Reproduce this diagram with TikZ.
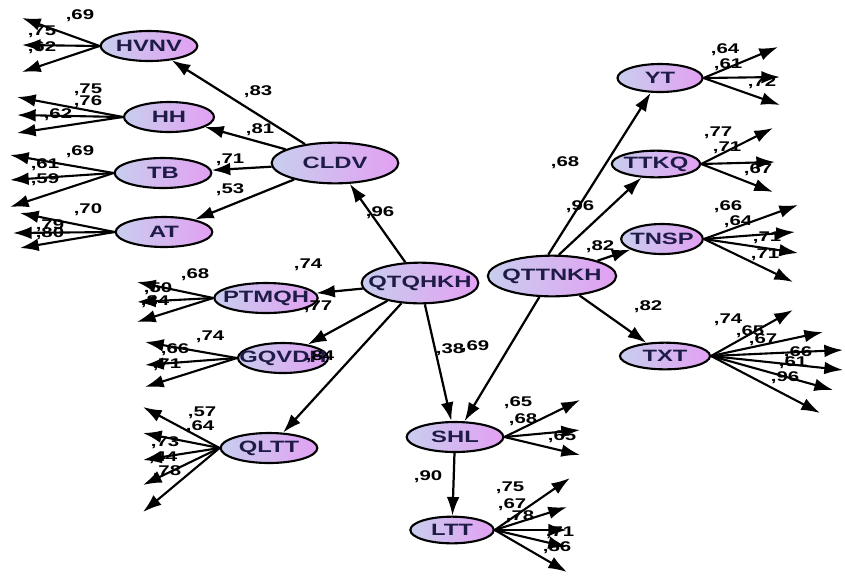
\documentclass[tikz,border=0pt]{standalone}
\usepackage{fontspec}
\newfontfamily\semfont[FakeStretch=1.45]{Liberation Sans}
\usetikzlibrary{shapes.geometric,arrows.meta}
\definecolor{latleft}{RGB}{200,206,238}
\definecolor{latright}{RGB}{226,160,242}
\definecolor{latink}{RGB}{30,28,70}

\begin{document}
\begin{tikzpicture}[x=0.03cm,y=-0.03cm,
  lat/.style={ellipse,draw,line width=1.8pt,left color=latleft,right color=latright,
    minimum width=2.9cm,minimum height=0.9cm,inner ysep=0pt,inner xsep=-0.36cm,text=latink,
    font=\semfont\bfseries\fontsize{14}{16}\selectfont},
  big/.style={minimum width=3.5cm,minimum height=1.22cm},
  path/.style={line width=1.9pt,-{Latex[length=5.6mm,width=3.8mm]}},
  ind/.style={line width=1.8pt,-{Latex[length=5.6mm,width=3.8mm]}},
  lbl/.style={inner sep=0pt,font=\semfont\bfseries\fontsize{12}{14}\selectfont}]
\useasboundingbox (0,0) rectangle (845,577);

% latent variables
\node[lat] (HVNV) at (149,46) {HVNV};
\node[lat,minimum width=2.7cm] (HH) at (169,117) {HH};
\node[lat] (TB) at (163,173) {TB};
\node[lat] (AT) at (164,232) {AT};
\node[lat,big,minimum width=3.8cm] (CLDV) at (335,163) {CLDV};
\node[lat,big] (QTQHKH) at (420,283) {QTQHKH};
\node[lat,big,minimum width=3.85cm] (QTTNKH) at (552,276) {QTTNKH};
\node[lat,minimum width=3.1cm] (PTMQH) at (266,298) {PTMQH};
\node[lat,minimum width=2.7cm] (GQVDH) at (283,358) {GQVDH};
\node[lat] (QLTT) at (269,448) {QLTT};
\node[lat] (SHL) at (455,437) {SHL};
\node[lat,minimum width=2.5cm,minimum height=0.8cm] (LTT) at (452,530) {LTT};
\node[lat,minimum width=2.55cm,minimum height=0.84cm] (YT) at (660,78) {YT};
\node[lat,minimum width=2.65cm,minimum height=0.8cm] (TTKQ) at (656,164) {TTKQ};
\node[lat,minimum width=2.45cm] (TNSP) at (662,239) {TNSP};
\node[lat,minimum width=2.7cm,minimum height=0.8cm] (TXT) at (665,356) {TXT};

% structural paths
\draw[path] (CLDV) -- (HVNV);
\draw[path] (CLDV) -- (HH);
\draw[path] (CLDV) -- (TB);
\draw[path] (CLDV) -- (AT);
\draw[path] (QTQHKH) -- (CLDV);
\draw[path] (QTQHKH) -- (PTMQH);
\draw[path] (QTQHKH) -- (GQVDH);
\draw[path] (QTQHKH) -- (QLTT);
\draw[path] (QTQHKH) -- (SHL);
\draw[path] (QTTNKH) -- (SHL);
\draw[path] (QTTNKH.100) -- (YT);
\draw[path] (QTTNKH.72) -- (TTKQ);
\draw[path] (QTTNKH) -- (TNSP);
\draw[path] (QTTNKH) -- (TXT);
\draw[path] (SHL) -- (LTT);

\foreach \t/\x/\y [count=\i] in {83/258/92,81/260/130,71/230/160,53/230/190,
  96/380/213,74/308/265,77/318/307,84/320/357,38/450/350,69/475/347,
  68/565/163,96/580/207,82/600/247,82/648/307,90/428/477}
  \node[lbl] (pl\i) at (\x,\y) {,\t};

% indicators, left side
\foreach \v/\ends/\labs in {
  HVNV/{22/18,22/45,22/72}/{69/80/16,75/42/32,62/42/48},
  HH/{17/97,17/115,17/133}/{75/88/90,76/88/102,62/58/115},
  TB/{10/155,10/180,10/207}/{69/80/152,61/45/165,59/45/180},
  AT/{20/213,13/233,20/248}/{70/88/210,79/50/226,80/50/234},
  PTMQH/{137/282,137/302,137/322}/{68/195/275,50/158/289,84/155/302},
  GQVDH/{145/342,145/365,145/387}/{74/210/337,66/175/350,71/167/365},
  QLTT/{143/407,143/433,143/460,143/485,143/512}/{57/202/413,64/200/427,73/165/443,44/163/458,78/167/472}} {
  \foreach \x/\y [count=\i] in \ends {
    \coordinate (\v e\i) at (\x,\y);
    \draw[ind] (\v.west) -- (\v e\i);
  }
  \foreach \t/\x/\y [count=\i] in \labs
    \node[lbl] (\v l\i) at (\x,\y) {,\t};
}

% indicators, right side
\foreach \v/\ends/\labs in {
  SHL/{580/400,580/430,580/455}/{65/518/403,68/523/420,65/562/437},
  LTT/{570/478,567/507,567/530,567/547,567/572}/{75/510/488,67/512/505,78/520/517,71/560/533,86/557/548},
  YT/{778/47,780/77,780/105}/{64/725/50,61/728/65,72/762/83},
  TTKQ/{773/128,775/162,773/192}/{77/718/133,71/727/148,67/758/170},
  TNSP/{798/205,795/232,798/253,793/282}/{66/728/207,64/738/222,71/767/238,71/765/255},
  TXT/{793/310,823/332,843/350,843/370,833/390,820/413}/{74/728/320,65/750/332,67/763/340,66/798/353,61/793/363,96/785/378}} {
  \foreach \x/\y [count=\i] in \ends {
    \coordinate (\v e\i) at (\x,\y);
    \draw[ind] (\v.east) -- (\v e\i);
  }
  \foreach \t/\x/\y [count=\i] in \labs
    \node[lbl] (\v l\i) at (\x,\y) {,\t};
}
\end{tikzpicture}
\end{document}
